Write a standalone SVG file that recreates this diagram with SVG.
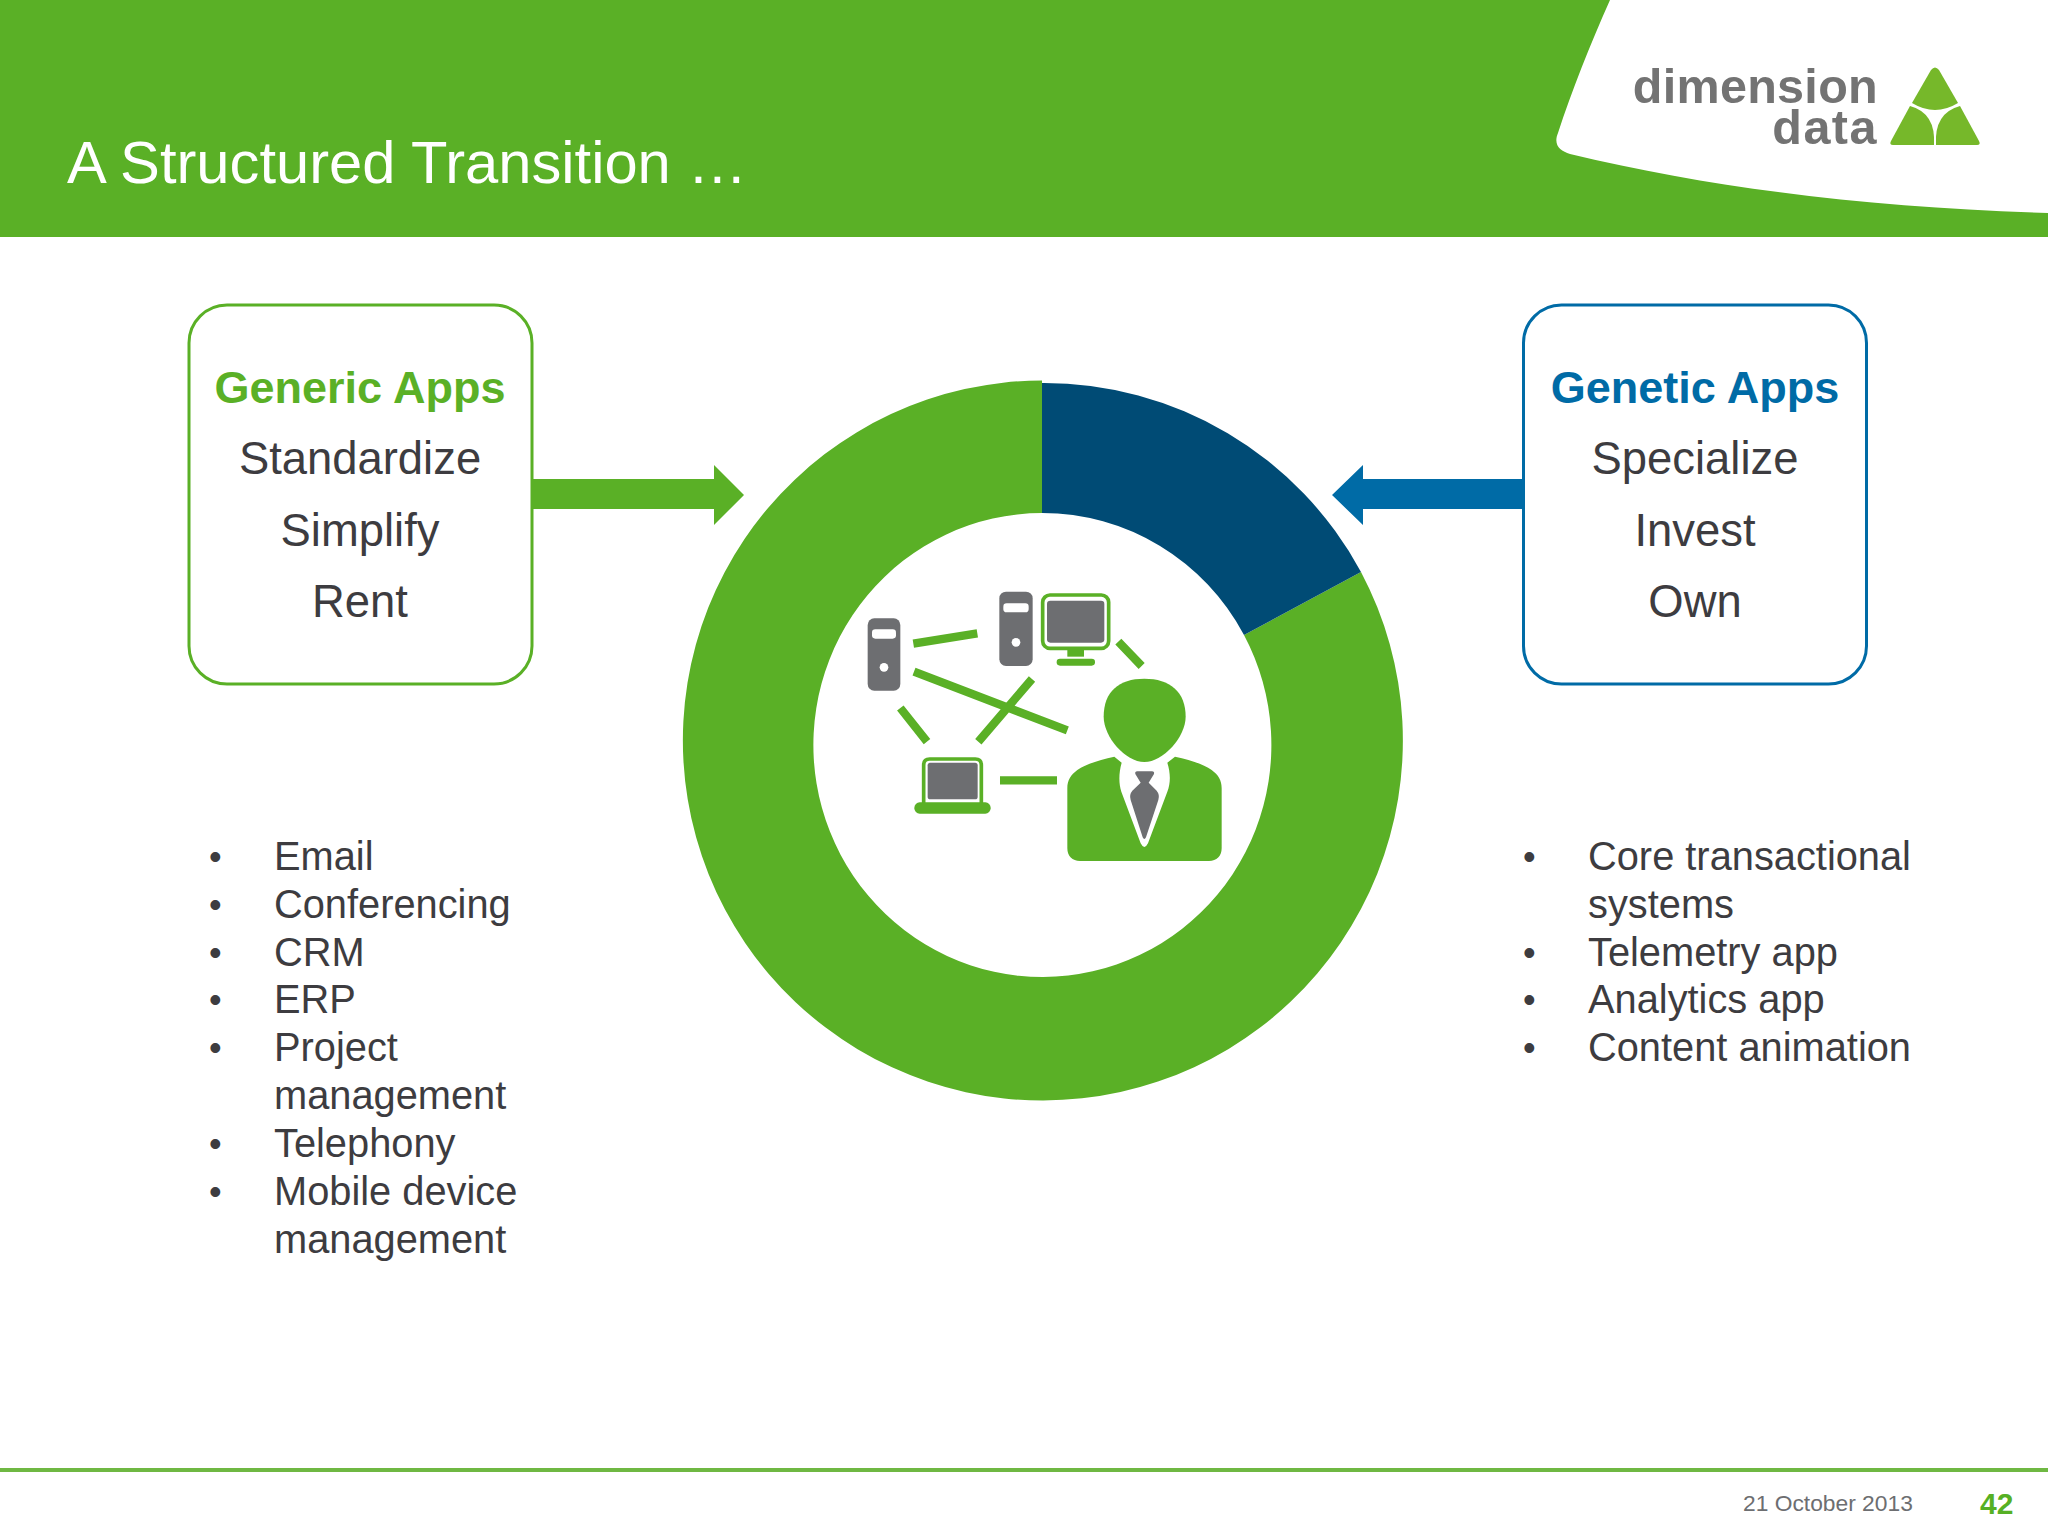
<svg xmlns="http://www.w3.org/2000/svg" width="2048" height="1536" viewBox="0 0 2048 1536">
<style>
text{font-family:"Liberation Sans",Arial,sans-serif}
.g{fill:#5ab026}.gr{fill:#6d6e71}.w{fill:#fff}
.box{fill:#fff;stroke-width:3}
.h{font-size:45px;font-weight:700;text-anchor:middle}
.b{font-size:45.400px;fill:#3d3c40;text-anchor:middle}
.l{font-size:39.800px;fill:#3d3c40}
.d{font-size:36px;fill:#3d3c40}
.link{stroke:#5ab026;stroke-width:25;fill:none}
.logo{font-size:48.500px;font-weight:700;fill:#737373;text-anchor:end}
.tri{fill:#76b82a}
</style>
<rect width="2048" height="1536" fill="#fff"/>
<g id="header">
<rect width="2048" height="237" class="g"/>
<path class="w" d="M1610 0C1590 45 1572 90 1558 133C1553 145 1560 151 1570 154C1720 190 1880 208 2048 213V0Z"/>
<text x="67" y="182.500" font-size="59.700" fill="#fff">A Structured Transition …</text>
</g>
<g id="logo">
<text class="logo" x="1878" y="103" letter-spacing=".3">dimension</text>
<text class="logo" x="1878" y="144" letter-spacing="1.500">data</text>
<path class="tri" d="M1931 70Q1935 65 1939 70L1958 103Q1935 117 1912 103Z"/>
<path class="tri" d="M1910 106Q1936 113 1934 145H1893Q1889 145 1891 141Z"/>
<path class="tri" d="M1960 106Q1934 113 1936 145H1977Q1981 145 1979 141Z"/>
</g>
<g id="donut">
<path class="g" d="M1042 380.500A360 360 0 1 0 1361 572L1244 635A229 232 0 1 1 1042 513Z"/>
<path fill="#004b75" d="M1042 383A360 360 0 0 1 1361 572L1244 635A229 232 0 0 0 1042 513Z"/>
</g>
<g id="generic-apps">
<rect class="box" x="189" y="305" width="343" height="379" rx="38" stroke="#5ab026"/>
<text class="h" x="360" y="403" fill="#5ab026">Generic Apps</text>
<text class="b" x="360" y="473.500">Standardize</text>
<text class="b" x="360" y="545.500">Simplify</text>
<text class="b" x="360" y="617">Rent</text>
</g>
<g id="genetic-apps">
<rect class="box" x="1523.500" y="305" width="343" height="379" rx="38" stroke="#006ba6"/>
<text class="h" x="1695" y="403" fill="#006ba6">Genetic Apps</text>
<text class="b" x="1695" y="473.500">Specialize</text>
<text class="b" x="1695" y="545.500">Invest</text>
<text class="b" x="1695" y="617">Own</text>
</g>
<g id="connectors">
<path class="g" d="M532 479H714V465L744 495L714 525V509H532Z"/>
<path fill="#006ba6" d="M1523 479H1363V465L1332 495L1363 525V509H1523Z"/>
</g>
<g id="icons" transform="translate(820 560) scale(.33333)">
<g id="network-links">
<path class="link" d="M280 251L472 220M282 335L742 511M636 357L475 545M241 444L321 545M895 245L965 318M540 661H711"/>
</g>
<g id="server-1">
<rect class="gr" x="143" y="175" width="98" height="217" rx="20"/>
<rect class="w" x="156" y="208" width="72" height="28" rx="10"/>
<circle class="w" cx="192" cy="322" r="13"/>
</g>
<g id="server-2">
<rect class="gr" x="538" y="95" width="100" height="223" rx="20"/>
<rect class="w" x="550" y="130" width="76" height="27" rx="10"/>
<circle class="w" cx="588" cy="247" r="13"/>
</g>
<g id="monitor">
<rect x="668" y="105" width="198" height="160" rx="22" fill="#fff" stroke="#5ab026" stroke-width="11"/>
<rect class="gr" x="681" y="122" width="172" height="126" rx="10"/>
<rect class="g" x="742" y="268" width="50" height="22"/>
<rect class="g" x="710" y="296" width="115" height="21" rx="10"/>
</g>
<g id="laptop">
<path d="M311 730V615Q311 597 329 597H466Q484 597 484 615V730" fill="#fff" stroke="#5ab026" stroke-width="11"/>
<rect class="gr" x="323" y="608" width="150" height="110" rx="8"/>
<rect class="g" x="283" y="727" width="229" height="34" rx="16"/>
</g>
<g id="person">
<path class="g" d="M973 356C1050 356 1097 395 1097 470C1097 530 1030 606 973 606C916 606 851 530 851 470C851 395 896 356 973 356Z"/>
<path class="g" d="M883 590L905 608C896 640 896 670 904 695L962 850Q973 872 984 850L1042 695C1052 670 1052 640 1042 608L1065 590C1110 600 1150 612 1175 630C1195 645 1205 660 1205 685V865C1205 888 1190 903 1167 903H780C757 903 742 888 742 865V685C742 660 752 645 772 630C797 612 840 600 883 590Z"/>
<path class="gr" d="M952 634H996Q1004 634 1002 642L986 668L1010 692Q1020 704 1015 720L978 832Q973 842 968 832L932 720Q927 704 937 692L962 668L946 642Q944 634 952 634Z"/>
</g>
</g>
<g id="generic-list">
<text class="d" x="209" y="869">•</text><text class="l" x="274" y="870">Email</text>
<text class="d" x="209" y="917">•</text><text class="l" x="274" y="918">Conferencing</text>
<text class="d" x="209" y="965">•</text><text class="l" x="274" y="966">CRM</text>
<text class="d" x="209" y="1012">•</text><text class="l" x="274" y="1013">ERP</text>
<text class="d" x="209" y="1060">•</text><text class="l" x="274" y="1061">Project</text>
<text class="l" x="274" y="1109">management</text>
<text class="d" x="209" y="1156">•</text><text class="l" x="274" y="1157">Telephony</text>
<text class="d" x="209" y="1204">•</text><text class="l" x="274" y="1205">Mobile device</text>
<text class="l" x="274" y="1253">management</text>
</g>
<g id="genetic-list">
<text class="d" x="1523" y="869">•</text><text class="l" x="1588" y="870">Core transactional</text>
<text class="l" x="1588" y="918">systems</text>
<text class="d" x="1523" y="965">•</text><text class="l" x="1588" y="966">Telemetry app</text>
<text class="d" x="1523" y="1012">•</text><text class="l" x="1588" y="1013">Analytics app</text>
<text class="d" x="1523" y="1060">•</text><text class="l" x="1588" y="1061">Content animation</text>
</g>
<g id="footer">
<rect y="1468" width="2048" height="4" fill="#6fb843"/>
<text x="1743" y="1511" font-size="22.800" fill="#6d6e71">21 October 2013</text>
<text x="1980" y="1514" font-size="30" font-weight="700" fill="#56b024">42</text>
</g>
</svg>
